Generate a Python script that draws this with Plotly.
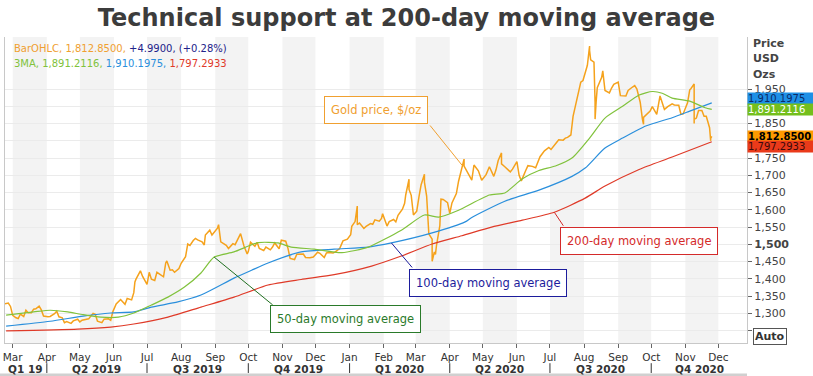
import plotly.graph_objects as go
import pandas as pd

# ---------------- data ----------------
price_dates = [
 "2019-02-22","2019-02-25","2019-02-27","2019-03-01","2019-03-04","2019-03-06","2019-03-08","2019-03-11",
 "2019-03-13","2019-03-15","2019-03-18","2019-03-20","2019-03-22","2019-03-25","2019-03-27","2019-03-29",
 "2019-04-02","2019-04-04","2019-04-08","2019-04-10","2019-04-12","2019-04-15","2019-04-17","2019-04-19",
 "2019-04-23","2019-04-25","2019-04-29","2019-05-01","2019-05-03","2019-05-07","2019-05-09","2019-05-13",
 "2019-05-15","2019-05-17","2019-05-21","2019-05-23","2019-05-27","2019-05-29","2019-05-31","2019-06-03",
 "2019-06-05","2019-06-07","2019-06-11","2019-06-13","2019-06-17","2019-06-19","2019-06-20","2019-06-21",
 "2019-06-25","2019-06-27","2019-07-01","2019-07-03","2019-07-05","2019-07-08","2019-07-10","2019-07-12",
 "2019-07-16","2019-07-18","2019-07-19","2019-07-22","2019-07-24","2019-07-26","2019-07-30","2019-08-01",
 "2019-08-05","2019-08-07","2019-08-09","2019-08-12","2019-08-14","2019-08-16","2019-08-20","2019-08-22",
 "2019-08-23","2019-08-27","2019-08-29","2019-09-03","2019-09-04","2019-09-06","2019-09-09","2019-09-11",
 "2019-09-13","2019-09-17","2019-09-19","2019-09-23","2019-09-24","2019-09-27","2019-09-30","2019-10-01",
 "2019-10-03","2019-10-07","2019-10-09","2019-10-11","2019-10-15","2019-10-17","2019-10-21","2019-10-23",
 "2019-10-25","2019-10-29","2019-10-31","2019-11-04","2019-11-06","2019-11-08","2019-11-12","2019-11-14",
 "2019-11-18","2019-11-20","2019-11-22","2019-11-26","2019-11-29","2019-12-03","2019-12-05","2019-12-09",
 "2019-12-11","2019-12-13","2019-12-17","2019-12-19","2019-12-23","2019-12-26","2019-12-30","2020-01-02",
 "2020-01-03","2020-01-06","2020-01-08","2020-01-08","2020-01-10","2020-01-14","2020-01-16","2020-01-20",
 "2020-01-22","2020-01-24","2020-01-28","2020-01-30","2020-01-31","2020-02-04","2020-02-06","2020-02-10",
 "2020-02-12","2020-02-14","2020-02-18","2020-02-20","2020-02-21","2020-02-24","2020-02-24","2020-02-26",
 "2020-02-28","2020-03-02","2020-03-04","2020-03-06","2020-03-09","2020-03-09","2020-03-11","2020-03-12",
 "2020-03-13","2020-03-16","2020-03-16","2020-03-18","2020-03-19","2020-03-20","2020-03-23","2020-03-24",
 "2020-03-26","2020-03-30","2020-04-01","2020-04-03","2020-04-07","2020-04-09","2020-04-14","2020-04-14",
 "2020-04-16","2020-04-21","2020-04-23","2020-04-27","2020-04-30","2020-05-04","2020-05-07","2020-05-11",
 "2020-05-13","2020-05-15","2020-05-18","2020-05-18","2020-05-21","2020-05-26","2020-05-28","2020-06-01",
 "2020-06-03","2020-06-05","2020-06-09","2020-06-11","2020-06-15","2020-06-18","2020-06-22","2020-06-24",
 "2020-06-26","2020-06-30","2020-07-02","2020-07-07","2020-07-09","2020-07-13","2020-07-15","2020-07-17",
 "2020-07-20","2020-07-22","2020-07-24","2020-07-27","2020-07-29","2020-07-31","2020-08-04","2020-08-06",
 "2020-08-06","2020-08-07","2020-08-10","2020-08-11","2020-08-11","2020-08-12","2020-08-13","2020-08-17",
 "2020-08-18","2020-08-20","2020-08-24","2020-08-26","2020-08-28","2020-09-01","2020-09-03","2020-09-08",
 "2020-09-10","2020-09-14","2020-09-16","2020-09-18","2020-09-21","2020-09-23","2020-09-24","2020-09-24",
 "2020-09-28","2020-09-30","2020-10-02","2020-10-06","2020-10-09","2020-10-13","2020-10-16","2020-10-20",
 "2020-10-22","2020-10-26","2020-10-28","2020-10-30","2020-11-03","2020-11-05","2020-11-06","2020-11-09",
 "2020-11-09","2020-11-09","2020-11-11","2020-11-13","2020-11-16","2020-11-18","2020-11-20","2020-11-23",
 "2020-11-24","2020-11-24","2020-11-25",
]
price_values = [
 1328,1330,1320,1294,1287,1285,1298,1291,
 1309,1302,1302,1312,1313,1321,1310,1292,
 1290,1291,1299,1306,1290,1287,1273,1276,
 1271,1278,1283,1275,1280,1284,1284,1300,
 1297,1277,1273,1283,1284,1280,1305,1327,
 1333,1340,1326,1343,1339,1360,1391,1399,
 1423,1407,1384,1419,1399,1395,1419,1415,
 1406,1446,1452,1425,1426,1419,1430,1445,
 1464,1501,1497,1511,1517,1513,1507,1498,
 1527,1541,1527,1547,1557,1507,1500,1497,
 1488,1502,1499,1522,1531,1496,1472,1479,
 1506,1494,1506,1488,1482,1492,1484,1492,
 1504,1487,1512,1509,1489,1459,1456,1471,
 1471,1472,1462,1461,1463,1477,1474,1462,
 1475,1476,1475,1478,1488,1510,1515,1528,
 1552,1566,1611,1557,1562,1546,1552,1560,
 1558,1571,1567,1575,1589,1553,1566,1572,
 1565,1584,1602,1619,1643,1689,1659,1642,
 1585,1596,1637,1673,1703,1680,1640,1577,
 1530,1515,1451,1478,1471,1498,1554,1631,
 1630,1621,1590,1620,1647,1683,1747,1727,
 1716,1686,1730,1713,1686,1702,1725,1697,
 1716,1743,1765,1733,1725,1710,1718,1740,
 1700,1684,1714,1728,1726,1722,1754,1761,
 1771,1781,1775,1795,1803,1802,1808,1810,
 1817,1871,1902,1941,1970,1975,2019,2075,
 2062,2035,2028,1911,1863,1915,1954,1984,
 2003,1946,1939,1953,1964,1970,1931,1930,
 1946,1956,1960,1950,1912,1863,1848,1868,
 1881,1886,1899,1877,1930,1891,1899,1907,
 1904,1903,1877,1878,1910,1948,1951,1965,
 1850,1862,1866,1888,1888,1871,1871,1838,
 1800,1807,1812.85,
]

ma50_dates = ["2019-02-23","2019-03-20","2019-04-04","2019-04-20","2019-05-04","2019-05-20","2019-06-05",
              "2019-06-19","2019-07-05","2019-07-20","2019-08-04","2019-08-19","2019-08-31","2019-09-18",
              "2019-10-10","2019-10-28","2019-11-09","2019-11-30","2019-12-25","2020-01-18","2020-02-17",
              "2020-03-09","2020-03-22","2020-04-09","2020-05-07","2020-05-21","2020-06-06","2020-06-21",
              "2020-07-06","2020-07-21","2020-08-06","2020-08-20","2020-09-05","2020-09-20","2020-10-02",
              "2020-10-11","2020-10-20","2020-11-05","2020-11-19","2020-11-25"]
ma50_values = [1295,1304,1309,1304,1296,1289,1289,
               1301,1324,1347,1376,1417,1463,1478,
               1505,1504,1492,1486,1476,1492,1541,
               1585,1579,1599,1643,1649,1690,1714,
               1727,1750,1808,1866,1900,1933,1943,
               1938,1924,1915,1896,1891.2116]

ma100_dates = ["2019-02-23","2019-04-04","2019-05-04","2019-05-29","2019-06-19","2019-07-05","2019-07-29",
               "2019-08-19","2019-09-18","2019-10-04","2019-10-19","2019-11-18","2019-12-18","2020-01-18",
               "2020-02-08","2020-03-16","2020-04-15","2020-04-21","2020-05-21","2020-06-21","2020-07-21",
               "2020-08-02","2020-08-20","2020-09-05","2020-09-26","2020-10-20","2020-11-05","2020-11-25"]
ma100_values = [1263,1277,1292,1301,1304,1318,1333,
                1353,1402,1425,1446,1478,1486,1492,
                1504,1533,1565,1578,1625,1657,1697,
                1721,1779,1808,1843,1867,1886,1910.1975]

ma200_dates = ["2019-02-23","2019-04-29","2019-05-29","2019-06-19","2019-07-20","2019-08-19","2019-09-18",
               "2019-10-19","2019-11-18","2019-12-18","2020-01-21","2020-02-17","2020-03-16","2020-04-12",
               "2020-05-09","2020-06-06","2020-07-05","2020-08-02","2020-08-20","2020-09-20","2020-10-20",
               "2020-11-25"]
ma200_values = [1249,1254,1260,1269,1289,1318,1347,
                1382,1398,1412,1437,1466,1501,1525,
                1550,1570,1593,1634,1669,1717,1753,
                1797.2933]

last_close = 1812.85
change = 4.99
change_pct = 0.28

quarter_labels = ["Q1 19", "Q2 2019", "Q3 2019", "Q4 2019", "Q1 2020", "Q2 2020", "Q3 2020", "Q4 2020"]
quarter_starts = ["2019-02-22", "2019-04-01", "2019-07-01", "2019-10-01", "2020-01-01",
                  "2020-04-01", "2020-07-01", "2020-10-01", "2020-12-27"]

y_ticks = list(range(1250, 2000, 50))

# ---------------- styling ----------------
FONT = "DejaVu Sans"
C_PRICE = "#f5a21c"
C_50 = "#80c23c"
C_100 = "#2a8fdc"
C_200 = "#df3a28"

X_START, X_END = "2019-02-22", "2020-12-27"
Y_MIN, Y_MAX = 1214, 2101

fig = go.Figure()
fig.add_trace(go.Scatter(x=price_dates, y=price_values, mode="lines",
                         line=dict(color=C_PRICE, width=1.5), name="Gold"))
fig.add_trace(go.Scatter(x=ma200_dates, y=ma200_values, mode="lines",
                         line=dict(color=C_200, width=1.2, shape="spline", smoothing=0.6), name="200"))
fig.add_trace(go.Scatter(x=ma100_dates, y=ma100_values, mode="lines",
                         line=dict(color=C_100, width=1.2, shape="spline", smoothing=0.6), name="100"))
fig.add_trace(go.Scatter(x=ma50_dates, y=ma50_values, mode="lines",
                         line=dict(color=C_50, width=1.2, shape="spline", smoothing=0.6), name="50"))

# month bands (odd months shaded)
months = pd.date_range("2019-03-01", "2020-12-01", freq="MS")
shapes = []
for i in range(0, len(months) - 1, 2):
    shapes.append(dict(type="rect", xref="x", yref="paper", x0=months[i], x1=months[i + 1],
                       y0=0, y1=1, fillcolor="#f3f3f3", line=dict(width=0), layer="below"))

# quarter separators
for qs in quarter_starts[1:-1]:
    shapes.append(dict(type="line", xref="x", yref="paper", x0=qs, x1=qs, y0=-0.066, y1=-0.098,
                       line=dict(color="#333", width=1)))
# bottom scroll bar strip
shapes.append(dict(type="rect", xref="paper", yref="paper", x0=-0.01, x1=1.0, y0=-0.108, y1=-0.100,
                   fillcolor="#d0d0d0", line=dict(width=0)))

annotations = []
# quarter labels
qs_ts = pd.to_datetime(quarter_starts)
for i, lab in enumerate(quarter_labels):
    mid = qs_ts[i] + (qs_ts[i + 1] - qs_ts[i]) / 2
    annotations.append(dict(x=mid, y=-0.085, xref="x", yref="paper", text="<b>%s</b>" % lab,
                            showarrow=False, font=dict(family=FONT, size=10.5, color="#333"),
                            yanchor="middle"))

# top-left legend text
annotations.append(dict(
    x=0.009, y=0.964, xref="paper", yref="paper", xanchor="left", yanchor="middle", showarrow=False,
    text=("<span style='color:#f0a030'>BarOHLC, {:,.4f},</span> "
          "<span style='color:#22228a'>+{:.4f}, (+{:.2f}%)</span>").format(last_close, change, change_pct),
    font=dict(family=FONT, size=10)))
annotations.append(dict(
    x=0.009, y=0.915, xref="paper", yref="paper", xanchor="left", yanchor="middle", showarrow=False,
    text=("<span style='color:%s'>3MA, {:,.4f},</span> <span style='color:%s'>{:,.4f},</span> "
          "<span style='color:%s'>{:,.4f}</span>" % (C_50, C_100, C_200)).format(
              ma50_values[-1], ma100_values[-1], ma200_values[-1]),
    font=dict(family=FONT, size=10)))

# right side header
for txt, yy in [("Price", 0.980), ("USD", 0.931), ("Ozs", 0.879)]:
    annotations.append(dict(x=1, y=yy, xref="paper", yref="paper", xanchor="left", xshift=4,
                            yanchor="middle", showarrow=False, text="<b>%s</b>" % txt,
                            font=dict(family=FONT, size=11, color="#444")))

# right side value boxes
for val, bg, fc, ysh, bold in [(ma100_values[-1], "#1e90e6", "#0b2a66", 4, False),
                               (ma50_values[-1], "#74bf1c", "#ffffff", 0, False),
                               (last_close, "#ff9a00", "#000000", 0, True),
                               (ma200_values[-1], "#ea3a1a", "#3a0a0a", -5, False)]:
    t = "{:,.4f}".format(val)
    if bold:
        t = "<b>%s</b>" % t
    annotations.append(dict(x=1, y=val, xref="paper", yref="y", xanchor="left", yanchor="middle",
                            yshift=ysh, showarrow=False, text=t, bgcolor=bg, borderpad=0,
                            width=66, align="left", font=dict(family=FONT, size=10, color=fc)))

# Auto button
annotations.append(dict(x=1, y=0.02, xref="paper", yref="paper", xanchor="left", xshift=6,
                        yanchor="middle", showarrow=False, text="<b>Auto</b>",
                        bordercolor="#555", borderwidth=1, borderpad=1, bgcolor="white",
                        font=dict(family=FONT, size=11, color="#333")))

# callout boxes
def box(text, xp, yp, color):
    return dict(x=xp, y=yp, xref="paper", yref="paper", xanchor="center", yanchor="middle",
                showarrow=False, text=text, bgcolor="white", bordercolor=color, borderwidth=1,
                borderpad=6, font=dict(family=FONT, size=11.5, color=color))

def leader(xd, yv, ax, ay, color):
    return dict(x=xd, y=yv, xref="x", yref="y", ax=ax, ay=ay, axref="pixel", ayref="pixel",
                text="", showarrow=True, arrowhead=0, arrowwidth=1, arrowcolor=color, standoff=0)

annotations.append(leader("2020-04-12", 1730, -33, -41, "#f0a030"))
annotations.append(box("Gold price, $/oz", 0.5, 0.761, "#f0a030"))
annotations.append(leader("2019-08-31", 1463, 60, 49, "#1f6e1f"))
annotations.append(box("50-day moving average", 0.459, 0.077, "#2a7a2a"))
annotations.append(leader("2020-02-08", 1504, 22, 26, "#1c1c9c"))
annotations.append(box("100-day moving average", 0.651, 0.196, "#1c1c9c"))
annotations.append(leader("2020-07-05", 1593, 10, 15, "#d42a2a"))
annotations.append(box("200-day moving average", 0.855, 0.333, "#d42a2a"))

tick_text = []
for v in y_ticks:
    if v == 1250 or v in (1800, 1900):
        tick_text.append("")
    elif v == 1500:
        tick_text.append("<b>1,500</b>")
    else:
        tick_text.append("{:,}".format(v))

fig.update_layout(
    width=813, height=376,
    margin=dict(l=5, r=66, t=37, b=33),
    paper_bgcolor="white", plot_bgcolor="white",
    showlegend=False,
    title=dict(text="<b>Technical support at 200-day moving average</b>", x=0.5, xanchor="center",
               y=0.952, yanchor="middle", yref="container",
               font=dict(family=FONT, size=24, color="#3c3c3c")),
    xaxis=dict(type="date", range=[X_START, X_END], tickvals=list(months), tickformat="%b",
               ticks="outside", ticklen=4, tickcolor="#666", showgrid=False, showline=True,
               linecolor="#c8c8c8", linewidth=1, zeroline=False, automargin=False,
               tickfont=dict(family=FONT, size=10.5, color="#333")),
    yaxis=dict(side="right", range=[Y_MIN, Y_MAX], tickvals=y_ticks, ticktext=tick_text,
               ticks="outside", ticklen=4, tickcolor="#666", showgrid=True, gridcolor="#ebebeb",
               showline=True, linecolor="#c8c8c8", mirror=True, zeroline=False, automargin=False,
               tickfont=dict(family=FONT, size=11, color="#444")),
    shapes=shapes, annotations=annotations,
)

fig.write_html("out.html", config={"displayModeBar": False},
               post_script="document.body.style.margin='0px';document.body.style.overflow='hidden';")
